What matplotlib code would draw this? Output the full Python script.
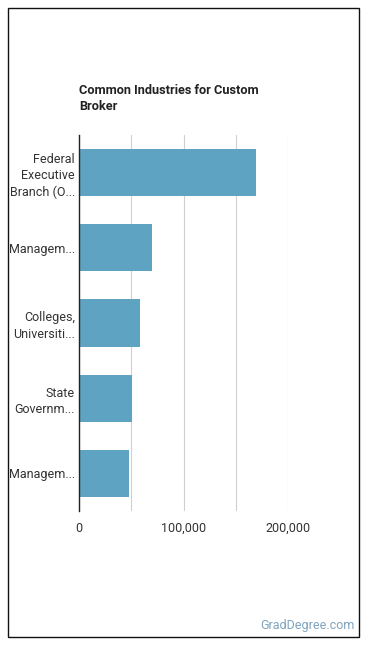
import matplotlib.pyplot as plt
from matplotlib.patches import Rectangle

plt.rcParams['font.family'] = ['Roboto', 'DejaVu Sans']

industries = ['Federal\nExecutive\nBranch (O...', 'Managem...', 'Colleges,\nUniversiti...',
              'State\nGovernm...', 'Managem...']
workers = [169400, 69900, 57900, 50700, 47800]
ticks = [0, 100000, 200000]
tick_labels = ['0', '100,000', '200,000']

fig = plt.figure(figsize=(3.7, 6.48), dpi=100)
ax = fig.add_axes([79 / 370, 1 - 511 / 648, (288 - 79) / 370, (511 - 135) / 648])

pos = list(range(len(industries)))
ax.barh(pos, workers, height=0.63, color='#5ea3c1', zorder=3)
ax.set_ylim(len(industries) - 0.5, -0.5)
ax.set_xlim(0, 200000)
ax.set_yticks(pos)
ax.set_yticklabels(industries, fontsize=9, color='#333333', linespacing=1.35)
ax.set_xticks(ticks)
ax.set_xticklabels(tick_labels, fontsize=9, color='#333333')
ax.set_xticks([50000, 150000], minor=True)
ax.grid(axis='x', which='both', color='#d0d0d0', linewidth=0.8, zorder=0)
ax.tick_params(axis='both', which='both', length=0, pad=3)
ax.tick_params(axis='x', pad=8)
for s in ['top', 'right', 'bottom']:
    ax.spines[s].set_visible(False)
ax.spines['left'].set_color('#222222')
ax.spines['left'].set_linewidth(1)
ax.spines['left'].set_zorder(4)

fig.text(79 / 370, 1 - 99 / 648, 'Common Industries for Custom\nBroker', fontsize=9.2,
         fontweight='bold', color='#222222', va='center', ha='left', linespacing=1.3)
fig.text(355 / 370, 1 - 626 / 648, 'GradDegree.com', fontsize=9, color='#7fa3bf',
         ha='right', va='center')

fig.patches.append(Rectangle((8 / 370, 1 - 637 / 648), 351 / 370, 629 / 648,
                             transform=fig.transFigure, fill=False,
                             edgecolor='#111111', linewidth=1))

fig.savefig('out.png', dpi=100)
